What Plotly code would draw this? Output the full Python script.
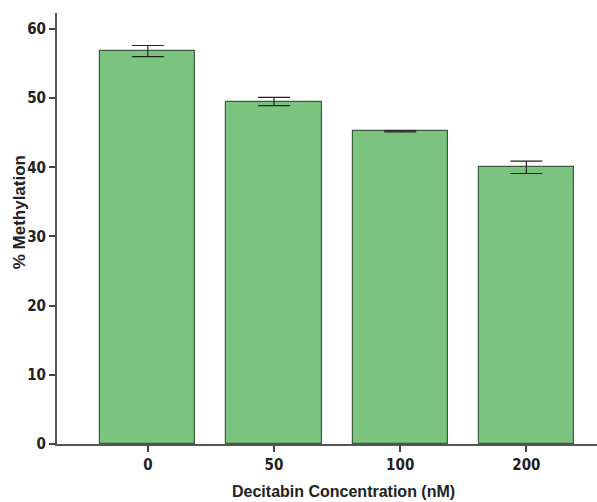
import plotly.graph_objects as go

# Methylation level per decitabine dose
concentrations = ["0", "50", "100", "200"]
methylation = [56.8, 49.5, 45.2, 40.0]
methylation_err = [0.8, 0.6, 0.1, 0.9]

y_ticks = [0, 10, 20, 30, 40, 50, 60]

tick_font = dict(family="Liberation Sans Narrow, DejaVu Sans Condensed, Arial Narrow, Liberation Sans",
                 size=15, color="#222222")
title_font = dict(family="Liberation Sans, Arial", size=16, color="#222222")

fig = go.Figure(
    go.Bar(
        x=list(range(len(concentrations))),
        y=methylation,
        width=0.754,
        marker=dict(color="#7bc47f", line=dict(color="#3d5c3f", width=1.2)),
        error_y=dict(type="data", array=methylation_err, visible=True,
                     color="#222222", thickness=1.2, width=16),
    )
)

fig.update_layout(
    width=597, height=502,
    margin=dict(l=57, r=0, t=13, b=58),
    plot_bgcolor="white", paper_bgcolor="white",
    showlegend=False,
    bargap=0,
)

fig.update_xaxes(
    range=[-0.72, 3.56],
    tickmode="array",
    tickvals=list(range(len(concentrations))),
    ticktext=["<b>%s</b>" % c for c in concentrations],
    tickfont=tick_font,
    ticks="outside", ticklen=6, tickwidth=1.5, tickcolor="#444444",
    showline=True, linecolor="#555555", linewidth=2,
    showgrid=False, zeroline=False,
)

fig.update_yaxes(
    range=[0, 62.3],
    tickmode="array",
    tickvals=y_ticks,
    ticktext=["<b>%d</b>" % v for v in y_ticks],
    tickfont=tick_font,
    ticks="outside", ticklen=6, tickwidth=1.5, tickcolor="#444444",
    showline=True, linecolor="#555555", linewidth=2,
    showgrid=False, zeroline=False,
)

fig.add_annotation(
    text="<b>% Methylation</b>", textangle=-90,
    xref="paper", yref="paper", x=-0.070, y=0.538,
    xanchor="center", yanchor="middle", showarrow=False,
    font=dict(title_font, size=17),
)
fig.add_annotation(
    text="<b>Decitabin Concentration (nM)</b>",
    xref="paper", yref="paper", x=0.530, y=-0.111,
    xanchor="center", yanchor="middle", showarrow=False, font=title_font,
)

fig.write_html("out.html")
